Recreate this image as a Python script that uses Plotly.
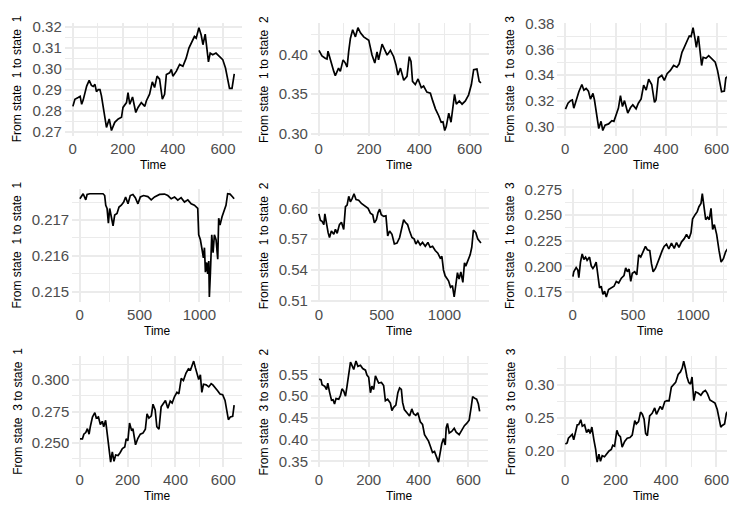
import plotly.graph_objects as go

W, H = 729, 514

# ---- transition probability series (time, value) ----
t_11 = [1, 9, 22, 30, 36, 42, 56, 66, 75, 82, 89, 95, 102, 109, 115, 129, 135, 146, 155, 168, 182, 195, 201, 215, 221, 228, 239, 252, 261, 274, 281, 288, 294, 307, 318, 327, 337, 347, 358, 367, 374, 387, 394, 400, 414, 427, 440, 453, 464, 477, 486, 493, 504, 513, 520, 529, 535, 542, 549, 559, 572, 586, 599, 610, 619, 626, 636, 645]
v_11 = [0.2820, 0.2854, 0.2862, 0.2868, 0.2830, 0.2850, 0.2917, 0.2944, 0.2920, 0.2915, 0.2925, 0.2890, 0.2900, 0.2900, 0.2870, 0.2775, 0.2720, 0.2760, 0.2705, 0.2744, 0.2760, 0.2768, 0.2815, 0.2838, 0.2886, 0.2830, 0.2865, 0.2791, 0.2815, 0.2838, 0.2830, 0.2820, 0.2846, 0.2878, 0.2937, 0.2910, 0.2964, 0.2950, 0.2854, 0.2878, 0.2972, 0.2980, 0.2996, 0.2964, 0.2988, 0.3020, 0.3011, 0.3050, 0.3098, 0.3129, 0.3153, 0.3145, 0.3195, 0.3160, 0.3114, 0.3164, 0.3090, 0.3032, 0.3074, 0.3066, 0.3074, 0.3058, 0.3043, 0.3003, 0.2940, 0.2906, 0.2906, 0.2975]

t_12 = [1, 13, 26, 33, 37, 46, 60, 66, 79, 86, 97, 106, 113, 119, 126, 135, 146, 156, 166, 179, 192, 199, 212, 223, 232, 238, 252, 262, 272, 285, 298, 307, 315, 325, 338, 351, 360, 367, 373, 384, 395, 408, 417, 430, 444, 453, 464, 477, 487, 494, 501, 507, 517, 526, 534, 540, 547, 559, 570, 583, 596, 607, 616, 629, 638, 645]
v_12 = [0.4050, 0.3980, 0.3950, 0.3940, 0.4040, 0.3930, 0.3785, 0.3730, 0.3826, 0.3785, 0.3930, 0.3890, 0.3840, 0.4030, 0.4200, 0.4310, 0.4220, 0.4335, 0.4270, 0.4220, 0.4190, 0.4178, 0.3992, 0.3890, 0.4030, 0.3930, 0.4128, 0.4050, 0.3990, 0.4050, 0.3970, 0.3870, 0.3740, 0.3826, 0.3674, 0.3723, 0.3970, 0.3910, 0.3660, 0.3620, 0.3690, 0.3580, 0.3600, 0.3525, 0.3510, 0.3417, 0.3314, 0.3227, 0.3145, 0.3150, 0.3041, 0.3090, 0.3260, 0.3145, 0.3350, 0.3496, 0.3373, 0.3413, 0.3373, 0.3413, 0.3490, 0.3620, 0.3806, 0.3814, 0.3660, 0.3640]

t_13 = [1, 11, 21, 28, 34, 44, 54, 66, 74, 83, 92, 100, 110, 116, 125, 133, 142, 149, 158, 172, 185, 193, 202, 211, 219, 227, 235, 248, 259, 268, 281, 290, 301, 311, 321, 331, 343, 354, 360, 369, 383, 393, 404, 417, 430, 443, 452, 463, 472, 483, 492, 499, 507, 515, 520, 528, 536, 541, 547, 558, 569, 582, 595, 604, 611, 620, 631, 637, 645]
v_13 = [0.3137, 0.3183, 0.3203, 0.3208, 0.3145, 0.3208, 0.3272, 0.3328, 0.3284, 0.3297, 0.3277, 0.3215, 0.3259, 0.3208, 0.3094, 0.2987, 0.3043, 0.2972, 0.3013, 0.3023, 0.3048, 0.3043, 0.3094, 0.3145, 0.3241, 0.3157, 0.3203, 0.3107, 0.3150, 0.3170, 0.3140, 0.3183, 0.3216, 0.3323, 0.3284, 0.3368, 0.3328, 0.3190, 0.3208, 0.3378, 0.3399, 0.3360, 0.3411, 0.3437, 0.3475, 0.3462, 0.3488, 0.3577, 0.3615, 0.3665, 0.3703, 0.3698, 0.3767, 0.3678, 0.3615, 0.3703, 0.3577, 0.3475, 0.3538, 0.3530, 0.3551, 0.3526, 0.3500, 0.3437, 0.3348, 0.3272, 0.3277, 0.3378, 0.3390]

t_21 = [1, 14, 28, 50, 61, 83, 139, 194, 208, 217, 228, 239, 250, 264, 278, 292, 311, 328, 347, 367, 383, 403, 422, 444, 464, 486, 506, 533, 569, 597, 625, 667, 708, 736, 764, 792, 819, 847, 875, 903, 931, 958, 986, 994, 1008, 1022, 1033, 1042, 1050, 1061, 1069, 1078, 1083, 1092, 1103, 1114, 1125, 1139, 1153, 1161, 1172, 1189, 1208, 1222, 1236, 1256, 1278, 1290]
v_21 = [0.21759, 0.21768, 0.21773, 0.21756, 0.21771, 0.21773, 0.21773, 0.21773, 0.21768, 0.21741, 0.21732, 0.21691, 0.21732, 0.21709, 0.21684, 0.21714, 0.21718, 0.21736, 0.21741, 0.21750, 0.21764, 0.21745, 0.21768, 0.21771, 0.21762, 0.21745, 0.21764, 0.21768, 0.21765, 0.21756, 0.21764, 0.21771, 0.21772, 0.21768, 0.21759, 0.21764, 0.21755, 0.21762, 0.21750, 0.21756, 0.21745, 0.21741, 0.21732, 0.21659, 0.21645, 0.21618, 0.21595, 0.21623, 0.21555, 0.21582, 0.21550, 0.21586, 0.21486, 0.21555, 0.21659, 0.21609, 0.21659, 0.21645, 0.21591, 0.21705, 0.21686, 0.21709, 0.21729, 0.21741, 0.21773, 0.21772, 0.21764, 0.21759]

t_22 = [1, 13, 26, 40, 48, 58, 74, 85, 100, 119, 132, 146, 164, 180, 198, 212, 225, 238, 251, 265, 280, 296, 317, 339, 357, 376, 392, 410, 429, 442, 458, 471, 484, 497, 516, 534, 548, 563, 582, 601, 622, 643, 661, 675, 688, 706, 722, 741, 759, 772, 788, 807, 825, 847, 868, 886, 905, 926, 947, 966, 979, 992, 1005, 1019, 1032, 1048, 1063, 1077, 1090, 1103, 1116, 1130, 1146, 1159, 1169, 1185, 1204, 1217, 1230, 1249, 1265, 1290]
v_22 = [0.5946, 0.5883, 0.5874, 0.5842, 0.5946, 0.5858, 0.5763, 0.5716, 0.5779, 0.5747, 0.5795, 0.5757, 0.5842, 0.5864, 0.5795, 0.6016, 0.6032, 0.6117, 0.6063, 0.6095, 0.6142, 0.6085, 0.6079, 0.6047, 0.6032, 0.6016, 0.6000, 0.5953, 0.5937, 0.5858, 0.5889, 0.5959, 0.5991, 0.5937, 0.5921, 0.5927, 0.5732, 0.5779, 0.5747, 0.5653, 0.5662, 0.5716, 0.5811, 0.5889, 0.5864, 0.5842, 0.5779, 0.5716, 0.5700, 0.5653, 0.5684, 0.5643, 0.5668, 0.5630, 0.5668, 0.5621, 0.5630, 0.5589, 0.5563, 0.5516, 0.5532, 0.5400, 0.5343, 0.5311, 0.5295, 0.5232, 0.5248, 0.5137, 0.5263, 0.5374, 0.5311, 0.5380, 0.5279, 0.5469, 0.5437, 0.5484, 0.5547, 0.5621, 0.5789, 0.5763, 0.5700, 0.5662]

t_23 = [1, 8, 28, 42, 50, 64, 78, 92, 106, 119, 139, 153, 167, 181, 194, 208, 222, 236, 250, 264, 278, 297, 319, 342, 361, 381, 403, 425, 439, 453, 467, 481, 494, 514, 531, 547, 564, 583, 603, 619, 639, 653, 667, 686, 703, 722, 742, 758, 778, 797, 819, 842, 861, 881, 903, 925, 944, 964, 981, 994, 1014, 1033, 1047, 1064, 1075, 1086, 1103, 1119, 1133, 1147, 1161, 1175, 1194, 1214, 1231, 1250, 1269, 1290]
v_23 = [0.1899, 0.1947, 0.1988, 0.1963, 0.1890, 0.2042, 0.2121, 0.2067, 0.2090, 0.2058, 0.2090, 0.2004, 0.1979, 0.2004, 0.2042, 0.1884, 0.1789, 0.1805, 0.1725, 0.1757, 0.1700, 0.1773, 0.1789, 0.1805, 0.1852, 0.1837, 0.1884, 0.1910, 0.1985, 0.1947, 0.1973, 0.1852, 0.1932, 0.1947, 0.1916, 0.2112, 0.2090, 0.2137, 0.2194, 0.2162, 0.2153, 0.2026, 0.1947, 0.1979, 0.2026, 0.2090, 0.2153, 0.2194, 0.2217, 0.2169, 0.2226, 0.2175, 0.2232, 0.2185, 0.2239, 0.2270, 0.2312, 0.2270, 0.2327, 0.2461, 0.2502, 0.2534, 0.2582, 0.2613, 0.2709, 0.2598, 0.2455, 0.2480, 0.2455, 0.2566, 0.2359, 0.2407, 0.2312, 0.2153, 0.2042, 0.2074, 0.2144, 0.2180]

t_31 = [1, 11, 17, 25, 32, 39, 44, 53, 63, 69, 78, 86, 94, 100, 108, 115, 122, 129, 136, 143, 150, 160, 169, 178, 188, 194, 201, 208, 217, 222, 233, 243, 253, 264, 274, 281, 289, 299, 306, 315, 322, 331, 340, 350, 358, 368, 378, 386, 396, 406, 414, 424, 433, 444, 454, 463, 469, 476, 483, 490, 497, 504, 510, 517, 528, 539, 549, 556, 567, 576, 586, 597, 607, 614, 621, 629, 639, 645]
v_31 = [0.2533, 0.2533, 0.2571, 0.2584, 0.2615, 0.2571, 0.2630, 0.2707, 0.2742, 0.2699, 0.2707, 0.2648, 0.2673, 0.2630, 0.2681, 0.2571, 0.2482, 0.2349, 0.2431, 0.2355, 0.2406, 0.2401, 0.2426, 0.2457, 0.2469, 0.2533, 0.2520, 0.2660, 0.2597, 0.2615, 0.2487, 0.2538, 0.2571, 0.2579, 0.2610, 0.2732, 0.2699, 0.2717, 0.2809, 0.2763, 0.2630, 0.2610, 0.2788, 0.2814, 0.2839, 0.2776, 0.2834, 0.2819, 0.2870, 0.2903, 0.2890, 0.3013, 0.2997, 0.3056, 0.3089, 0.3082, 0.3120, 0.3151, 0.3099, 0.3043, 0.3005, 0.3043, 0.2903, 0.2967, 0.2962, 0.2946, 0.2972, 0.2962, 0.2941, 0.2916, 0.2890, 0.2885, 0.2839, 0.2750, 0.2686, 0.2707, 0.2712, 0.2801]

t_32 = [1, 9, 13, 24, 31, 36, 43, 51, 57, 63, 69, 80, 87, 93, 100, 107, 113, 120, 127, 133, 140, 149, 157, 167, 176, 187, 193, 200, 207, 213, 220, 227, 233, 240, 251, 260, 267, 276, 287, 293, 300, 309, 317, 324, 331, 336, 343, 353, 364, 373, 380, 389, 397, 407, 416, 424, 431, 440, 447, 456, 464, 471, 480, 487, 493, 500, 507, 511, 516, 523, 533, 543, 551, 563, 573, 584, 593, 603, 611, 617, 627, 633, 640, 645]
v_32 = [0.5389, 0.5374, 0.5263, 0.5226, 0.5152, 0.5300, 0.5093, 0.4907, 0.4915, 0.4819, 0.4944, 0.4930, 0.5019, 0.5167, 0.5115, 0.5000, 0.5226, 0.5522, 0.5781, 0.5707, 0.5611, 0.5804, 0.5685, 0.5707, 0.5633, 0.5596, 0.5485, 0.5433, 0.5078, 0.5226, 0.5152, 0.5463, 0.5389, 0.5300, 0.5315, 0.5241, 0.4893, 0.4930, 0.4841, 0.4670, 0.4744, 0.4796, 0.5078, 0.5189, 0.5152, 0.4856, 0.4693, 0.4633, 0.4544, 0.4707, 0.4596, 0.4559, 0.4619, 0.4411, 0.4352, 0.4115, 0.4056, 0.3967, 0.3856, 0.3707, 0.3730, 0.3633, 0.3485, 0.3707, 0.3907, 0.4026, 0.3878, 0.4278, 0.4374, 0.4152, 0.4189, 0.4263, 0.4174, 0.4115, 0.4226, 0.4322, 0.4374, 0.4448, 0.4744, 0.4989, 0.4944, 0.4930, 0.4819, 0.4648]

t_33 = [1, 8, 13, 21, 28, 34, 41, 48, 54, 62, 68, 77, 85, 93, 99, 106, 114, 121, 127, 134, 140, 147, 156, 166, 174, 183, 189, 196, 205, 212, 219, 226, 236, 246, 257, 266, 276, 282, 291, 299, 306, 313, 319, 326, 335, 345, 355, 362, 368, 377, 385, 395, 404, 412, 421, 430, 438, 448, 457, 464, 470, 477, 483, 490, 497, 503, 510, 517, 527, 538, 547, 556, 564, 574, 584, 594, 603, 611, 617, 623, 632, 639, 645]
v_33 = [0.2106, 0.2121, 0.2193, 0.2217, 0.2251, 0.2169, 0.2290, 0.2396, 0.2400, 0.2473, 0.2377, 0.2396, 0.2280, 0.2329, 0.2266, 0.2362, 0.2169, 0.2024, 0.1831, 0.1952, 0.1845, 0.1928, 0.1913, 0.1961, 0.2000, 0.2024, 0.2087, 0.2072, 0.2314, 0.2242, 0.2217, 0.2058, 0.2145, 0.2193, 0.2203, 0.2242, 0.2459, 0.2410, 0.2444, 0.2589, 0.2556, 0.2483, 0.2266, 0.2232, 0.2531, 0.2570, 0.2652, 0.2556, 0.2604, 0.2676, 0.2628, 0.2749, 0.2763, 0.2760, 0.2966, 0.3014, 0.3039, 0.3159, 0.3198, 0.3256, 0.3362, 0.3246, 0.3121, 0.3039, 0.3014, 0.3121, 0.2763, 0.2894, 0.2879, 0.2845, 0.2894, 0.2918, 0.2870, 0.2773, 0.2749, 0.2725, 0.2628, 0.2459, 0.2362, 0.2386, 0.2410, 0.2570, 0.2600]

y_titles = ["From state \u00a01 to state \u00a01", "From state \u00a01 to state \u00a02", "From state \u00a01 to state \u00a03",
            "From state \u00a01 to state \u00a01", "From state \u00a01 to state \u00a02", "From state \u00a01 to state \u00a03",
            "From state \u00a03 to state \u00a01", "From state \u00a03 to state \u00a02", "From state \u00a03 to state \u00a03"]
x_title = "Time"

series = [(t_11, v_11), (t_12, v_12), (t_13, v_13),
          (t_21, v_21), (t_22, v_22), (t_23, v_23),
          (t_31, v_31), (t_32, v_32), (t_33, v_33)]

# ---- panel geometry (pixels: left, right, top, bottom) and tick steps ----
boxes = [(65, 243, 15, 131.5), (311.7, 490.4, 15, 131.5), (558.9, 738, 15, 131.5),
         (72.4, 242.5, 186, 303), (311.7, 490.4, 186, 303), (566.7, 738, 186, 303),
         (72.5, 242.5, 358.5, 473), (311.9, 489, 358.5, 473), (558.8, 738, 358.5, 473)]
y_steps = [(0.01, ".2f"), (0.05, ".2f"), (0.02, ".2f"),
           (0.001, ".3f"), (0.03, ".2f"), (0.025, ".3f"),
           (0.025, ".3f"), (0.05, ".2f"), (0.05, ".2f")]
y_tick0 = [0.27, 0.30, 0.30, 0.215, 0.51, 0.175, 0.25, 0.35, 0.20]
x_steps = [200, 200, 200, 500, 500, 500, 200, 200, 200]
y_title_x = [17.3, 264.7, 512.0]

FONT = "Liberation Sans, Arial, Helvetica, sans-serif"
GRID = "#EBEBEB"
TICK_COL = "#4D4D4D"

fig = go.Figure()
annotations = []
layout_axes = {}

for i, ((t, v), (l, r, top, bot)) in enumerate(zip(series, boxes)):
    k = i + 1
    sfx = "" if k == 1 else str(k)

    # ggplot-style 5% expansion of the data extent
    n = max(t)
    xlo = min(t) - 0.05 * (n - min(t))
    xhi = n + 0.05 * (n - min(t))
    vmin, vmax = min(v), max(v)
    span = vmax - vmin
    ylo, yhi = vmin - 0.05 * span, vmax + 0.05 * span

    # right-most column runs past the page edge: clip the visible part
    r_vis = min(r, W)
    xhi_vis = xlo + (xhi - xlo) * (r_vis - l) / (r - l)

    fig.add_trace(go.Scatter(x=t, y=v, mode="lines",
                             line=dict(color="black", width=1.7),
                             xaxis="x" + sfx, yaxis="y" + sfx,
                             showlegend=False, hoverinfo="skip"))

    ystep, yfmt = y_steps[i]
    layout_axes["xaxis" + sfx] = dict(
        domain=[l / W, r_vis / W], range=[xlo, xhi_vis], anchor="y" + sfx,
        tickmode="linear", tick0=0, dtick=x_steps[i],
        showgrid=True, gridcolor=GRID, gridwidth=1.6,
        minor=dict(showgrid=True, gridcolor=GRID, gridwidth=0.9, tick0=0, dtick=x_steps[i] / 2),
        zeroline=False, showline=False, ticks="",
        tickfont=dict(size=15, color=TICK_COL, family=FONT), ticklabelstandoff=2,
        ticklabeloverflow="allow",
    )
    layout_axes["yaxis" + sfx] = dict(
        domain=[1 - bot / H, 1 - top / H], range=[ylo, yhi], anchor="x" + sfx,
        tickmode="linear", tick0=y_tick0[i], dtick=ystep, tickformat=yfmt,
        showgrid=True, gridcolor=GRID, gridwidth=1.6,
        minor=dict(showgrid=True, gridcolor=GRID, gridwidth=0.9, tick0=y_tick0[i], dtick=ystep / 2),
        zeroline=False, showline=False, ticks="",
        tickfont=dict(size=15, color=TICK_COL, family=FONT), ticklabelstandoff=2,
        ticklabeloverflow="allow",
    )

    # axis titles
    annotations.append(dict(text=y_titles[i], textangle=-90, xref="paper", yref="paper",
                            x=y_title_x[i % 3] / W, y=1 - (top + bot) / 2 / H,
                            xanchor="center", yanchor="middle", showarrow=False,
                            font=dict(size=12, color="black", family=FONT)))
    annotations.append(dict(text=x_title, xref="paper", yref="paper",
                            x=(l + r) / 2 / W, y=1 - (bot + 30) / H,
                            xanchor="center", yanchor="middle", showarrow=False,
                            font=dict(size=12, color="black", family=FONT)))

fig.update_layout(
    width=W, height=H, margin=dict(l=0, r=0, t=0, b=0),
    paper_bgcolor="white", plot_bgcolor="white",
    font=dict(family=FONT),
    annotations=annotations,
    **layout_axes,
)

fig.write_html("out.html")
